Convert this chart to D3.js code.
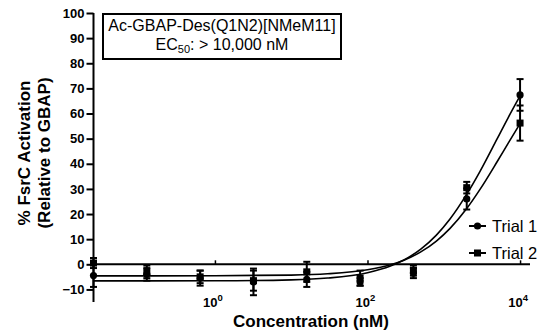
<!DOCTYPE html>
<html><head><meta charset="utf-8">
<script src="https://cdn.jsdelivr.net/npm/d3@7"></script>
<style>body{margin:0;background:#fff}svg{display:block}text{font-family:"Liberation Sans",Arial,sans-serif}</style>
</head><body><svg id="c" width="551" height="332"></svg>
<script>
// ---- data ----
const concentrations = [0.0256, 0.128, 0.64, 3.2, 16, 80, 400, 2000, 10000];
const trial1Mean = [-4.5, -4, -5.5, -7, -6, -7, -3.5, 26, 67.4];
const trial1Err  = [4.5, 2.5, 3, 5.3, 3, 1.5, 2, 4.2, 6.3];
const trial2Mean = [0.5, -3, -5, -6.5, -3, -5.5, -2.5, 30.5, 56.2];
const trial2Err  = [2, 2.5, 2.5, 4, 4, 3, 2, 2.3, 7];
const curveConc   = [0.0256, 0.1, 1, 10, 30, 100, 200, 300, 500, 800, 1200, 2000, 3000, 5000, 7000, 10000];
const trial1Curve = [-6.6, -6.59, -6.55, -6.18, -5.48, -3.35, -0.68, 1.72, 6.04, 11.6, 17.9, 27.9, 37.1, 49.9, 58.4, 67.0];
const trial2Curve = [-4.6, -4.6, -4.56, -4.29, -3.77, -2.18, -0.18, 1.65, 4.94, 9.26, 14.2, 22.2, 29.9, 40.8, 48.2, 56.0];
const yTicks = [-10, 0, 10, 20, 30, 40, 50, 60, 70, 80, 90, 100];
const xTickExps = [0, 2, 4];
const seriesNames = ["Trial 1", "Trial 2"];

const svg = d3.select("#c");
const x = d3.scaleLog().domain([0.0256, 13500]).range([93.5, 530]);
const y = d3.scaleLinear().domain([-15, 100]).range([302, 13]);

// y axis
const yAxis = svg.append("g").attr("transform", "translate(93.5,0)")
  .call(d3.axisLeft(y).tickValues(yTicks).tickSize(7).tickPadding(2));
yAxis.select(".domain").attr("stroke-width", 2).attr("d", `M0,${y(100)}V${y(-15)}`);
yAxis.selectAll(".tick line").attr("stroke-width", 2);
yAxis.selectAll("text").attr("font-size", 13).attr("font-weight", "bold").attr("fill", "#000")
  .attr("font-family", '"Liberation Sans",Arial,sans-serif');

// x axis line at y=0 with upward ticks
const xAxis = svg.append("g").attr("transform", `translate(0,${y(0)})`)
  .call(d3.axisTop(x).tickValues(xTickExps.map(e => Math.pow(10, e))).tickSize(4).tickFormat(""));
xAxis.select(".domain").attr("stroke-width", 2).attr("d", `M${x.range()[0]},0H${x.range()[1]}`);
xAxis.selectAll(".tick line").attr("stroke-width", 1.5);

// x tick labels at bottom
const xl = svg.append("g");
xTickExps.forEach(e => {
  const t = xl.append("text").attr("x", x(Math.pow(10, e)) - 2).attr("y", 306.5)
    .attr("text-anchor", "middle").attr("font-weight", "bold").attr("font-size", 13);
  t.append("tspan").text("10");
  t.append("tspan").attr("dy", -6).attr("font-size", 9.5).text(String(e));
});

// titles
svg.append("text").attr("x", 311).attr("y", 327).attr("text-anchor", "middle")
  .attr("font-weight", "bold").attr("font-size", 17).text("Concentration (nM)");
const yt = svg.append("text").attr("transform", "translate(0,153) rotate(-90)")
  .attr("text-anchor", "middle").attr("font-weight", "bold").attr("font-size", 17);
yt.append("tspan").attr("x", 0).attr("y", 30).text("% FsrC  Activation");
yt.append("tspan").attr("x", 0).attr("y", 50).text("(Relative to GBAP)");

// curves
const line = d3.line().x(d => x(d[0])).y(d => y(d[1])).curve(d3.curveMonotoneX);
[trial1Curve, trial2Curve].forEach(c => {
  svg.append("path").attr("d", line(curveConc.map((v, i) => [v, c[i]])))
    .attr("fill", "none").attr("stroke", "#000").attr("stroke-width", 1.6);
});

// error bars + markers
function drawSeries(means, errs, shape) {
  const g = svg.append("g");
  concentrations.forEach((c, i) => {
    const cx = x(c), top = y(means[i] + errs[i]), bot = y(means[i] - errs[i]);
    g.append("line").attr("x1", cx).attr("x2", cx).attr("y1", top).attr("y2", bot).attr("stroke", "#000").attr("stroke-width", 2);
    [top, bot].forEach(yy => g.append("line").attr("x1", cx - 3.5).attr("x2", cx + 3.5).attr("y1", yy).attr("y2", yy).attr("stroke", "#000").attr("stroke-width", 2));
    if (shape === "circle") g.append("circle").attr("cx", cx).attr("cy", y(means[i])).attr("r", 3.6).attr("fill", "#000");
    else g.append("rect").attr("x", cx - 3.5).attr("y", y(means[i]) - 3.5).attr("width", 7).attr("height", 7).attr("fill", "#000");
  });
}
drawSeries(trial1Mean, trial1Err, "circle");
drawSeries(trial2Mean, trial2Err, "square");

// legend
const leg = svg.append("g");
seriesNames.forEach((n, i) => {
  const ly = 226 + i * 27;
  leg.append("line").attr("x1", 469).attr("x2", 486).attr("y1", ly).attr("y2", ly).attr("stroke", "#000").attr("stroke-width", 2);
  if (i === 0) leg.append("circle").attr("cx", 477.5).attr("cy", ly).attr("r", 3.6).attr("fill", "#000");
  else leg.append("rect").attr("x", 474).attr("y", ly - 3.5).attr("width", 7).attr("height", 7).attr("fill", "#000");
  leg.append("text").attr("x", 492).attr("y", ly + 6).attr("font-size", 16.5).text(n);
});

// annotation box
svg.append("rect").attr("x", 103).attr("y", 14).attr("width", 238).attr("height", 45)
  .attr("fill", "#fff").attr("stroke", "#000").attr("stroke-width", 2);
svg.append("text").attr("x", 222).attr("y", 30.5).attr("text-anchor", "middle").attr("font-size", 16)
  .text("Ac-GBAP-Des(Q1N2)[NMeM11]");
const ec = svg.append("text").attr("x", 222).attr("y", 49.5).attr("text-anchor", "middle").attr("font-size", 16);
ec.append("tspan").text("EC");
ec.append("tspan").attr("dy", 3).attr("font-size", 11).text("50");
ec.append("tspan").attr("dy", -3).text(": > 10,000 nM");
</script></body></html>
